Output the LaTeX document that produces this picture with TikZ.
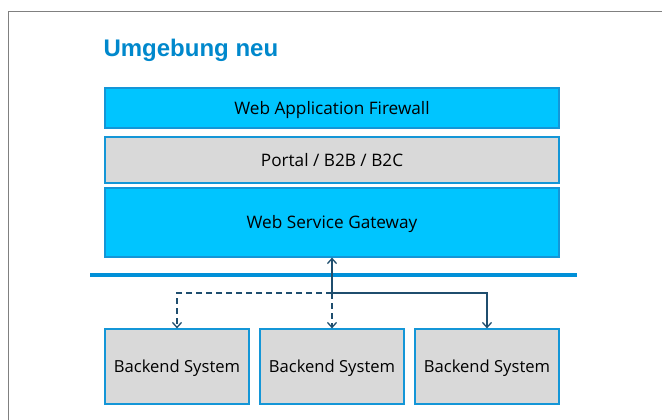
\documentclass[tikz,border=0pt]{standalone}
\usepackage{fontspec}
\setmainfont{Open Sans}
\newfontfamily\titlefont{Liberation Sans}
\usepackage{xcolor}
\usetikzlibrary{arrows.meta,positioning}

\definecolor{boxcyan}{RGB}{0,197,255}
\definecolor{boxgray}{RGB}{217,217,217}
\definecolor{boxline}{RGB}{20,150,215}
\definecolor{barblue}{RGB}{0,144,216}
\definecolor{arrowblue}{RGB}{31,78,110}
\definecolor{titleblue}{RGB}{0,136,204}

\tikzset{
	layer/.style = {draw=boxline, line width=1.2pt, minimum width=454pt, inner sep=0pt,
		text height=12.2pt, text depth=0pt, font=\fontsize{17.2}{20}\selectfont},
	backend/.style = {draw=boxline, line width=1.2pt, fill=boxgray, minimum width=144pt,
		minimum height=75pt, inner sep=0pt, text height=12.2pt, text depth=0pt,
		font=\fontsize{16.6}{20}\selectfont},
	link/.style = {draw=arrowblue, line width=1.3pt, -{Straight Barb[length=5pt,width=9pt]}},
}

\begin{document}
	\begin{tikzpicture}[x=1pt, y=-1pt]
		\useasboundingbox (0,0) rectangle (662,420);
		\draw[gray, line width=1pt] (8,420) -- (8,12) -- (662,12);
		\node[anchor=base west, text=titleblue, font=\titlefont\fontsize{24}{28}\selectfont\bfseries] (title) at (100,57) {Umgebung neu};

		% layers
		\node[layer, fill=boxcyan, minimum height=40pt] (waf) at (332,108) {Web Application Firewall};
		\node[layer, fill=boxgray, minimum height=46pt] (portal) at (332,160) {Portal / B2B / B2C};
		\node[layer, fill=boxcyan, minimum height=69pt] (wsg) at (332,222.5) {Web Service Gateway};

		\draw[barblue, line width=4pt] (90,275) -- (577,275);

		% backends
		\node[backend] (back1) at (177,366.5) {Backend System};
		\node[backend] (back2) at (332,366.5) {Backend System};
		\node[backend] (back3) at (487,366.5) {Backend System};

		\coordinate (hub) at (332,293);
		\draw[link, dash pattern=on 6pt off 4pt] (hub) -| (back1.north);
		\draw[link, dash pattern=on 6pt off 4pt] (hub) -- (back2.north);
		\draw[link] (hub) -| (back3.north);
		\draw[link] (hub) -- (wsg.south);
	\end{tikzpicture}
\end{document}
